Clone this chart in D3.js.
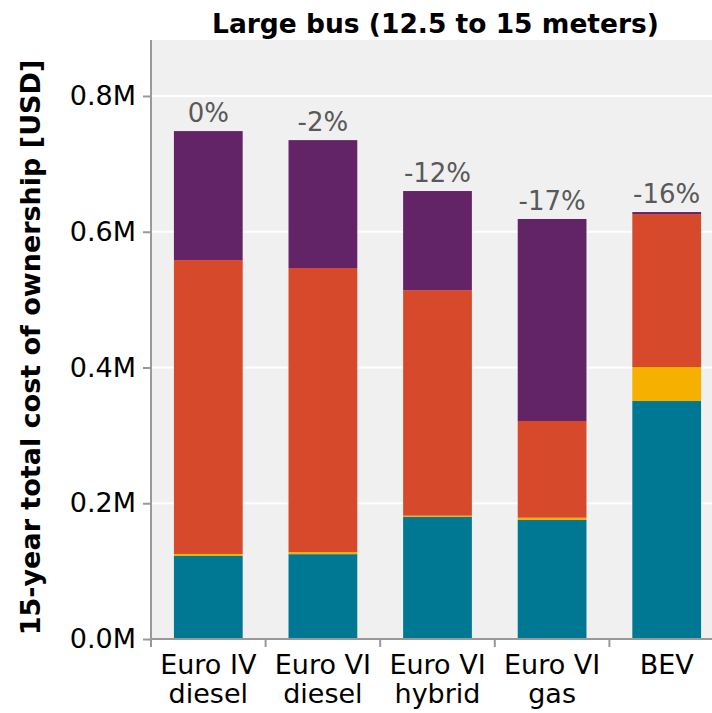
<!DOCTYPE html>
<html><head><meta charset="utf-8">
<script src="https://cdn.jsdelivr.net/npm/d3@7"></script>
<style>body{margin:0;background:#fff}</style>
</head><body>
<svg id="c" width="712" height="713"></svg>
<script>
const categories = ["Euro IV\ndiesel", "Euro VI\ndiesel", "Euro VI\nhybrid", "Euro VI\ngas", "BEV"];
const seriesNames = ["Vehicle", "Infrastructure", "Energy", "Maintenance & other"];
const vehicle        = [0.1223, 0.125, 0.1797, 0.1753, 0.3506];
const infrastructure = [0.003, 0.003, 0.002, 0.0034, 0.0501];
const energy         = [0.433, 0.4186, 0.3323, 0.1425, 0.2253];
const maintenance    = [0.190, 0.1884, 0.146, 0.2976, 0.003];
const pctLabels = ["0%", "-2%", "-12%", "-17%", "-16%"];
const yTicks = [0, 0.2, 0.4, 0.6, 0.8];
const colors = ["#007893", "#f5b000", "#d64a2b", "#622466"];
const chartTitle = "Large bus (12.5 to 15 meters)";
const yTitle = "15-year total cost of ownership [USD]";

const svg = d3.select("#c");
const pL = 151, pR = 724, pT = 40, pB = 639;
const yMax = (pB - pT) / ((pB - 96) / 0.8);

const x = d3.scaleBand().domain(categories).range([pL, pR]).paddingInner(0.4).paddingOuter(0.2);
const y = d3.scaleLinear().domain([0, yMax]).range([pB, pT]);

const rows = categories.map((c, i) => ({cat: c, s0: vehicle[i], s1: infrastructure[i], s2: energy[i], s3: maintenance[i], pct: pctLabels[i]}));
const stack = d3.stack().keys(["s0", "s1", "s2", "s3"])(rows);

// background
svg.append("rect").attr("x", pL).attr("y", pT).attr("width", 712 - pL).attr("height", pB - pT).attr("fill", "#f0f0f0");

// grid
svg.append("g").selectAll("line").data(yTicks).join("line")
  .attr("x1", pL).attr("x2", 712).attr("y1", d => y(d)).attr("y2", d => y(d))
  .attr("stroke", "#fff").attr("stroke-width", 2);

// bars
svg.append("g").selectAll("g").data(stack).join("g").attr("fill", (d, i) => colors[i])
  .selectAll("rect").data(d => d).join("rect")
  .attr("x", d => x(d.data.cat)).attr("width", x.bandwidth())
  .attr("y", d => y(d[1])).attr("height", d => y(d[0]) - y(d[1]));

// percent labels
const totals = rows.map(r => r.s0 + r.s1 + r.s2 + r.s3);
svg.append("g").selectAll("text").data(rows).join("text")
  .attr("x", d => x(d.cat) + x.bandwidth() / 2)
  .attr("y", (d, i) => y(totals[i]) - 9)
  .attr("text-anchor", "middle")
  .attr("font-family", "DejaVu Sans").attr("font-size", 26).attr("fill", "#595959")
  .text(d => d.pct);

// y axis
const yAxis = svg.append("g").attr("transform", `translate(${pL},0)`)
  .call(d3.axisLeft(y).tickValues(yTicks).tickFormat(d => d3.format(".1f")(d) + "M").tickSize(8).tickPadding(7));
yAxis.select(".domain").attr("stroke", "#999").attr("stroke-width", 2).attr("d", `M0,${pT}V${pB}`);
yAxis.selectAll(".tick line").attr("stroke", "#999").attr("stroke-width", 2);
yAxis.selectAll(".tick text").attr("font-family", "DejaVu Sans").attr("font-size", 27).attr("fill", "#000");

// x axis
const xAxis = svg.append("g").attr("transform", `translate(0,${pB})`)
  .call(d3.axisBottom(x).tickSize(8).tickPadding(8));
xAxis.select(".domain").attr("stroke", "#999").attr("stroke-width", 2).attr("d", `M${pL},0H712`);
xAxis.selectAll(".tick line").attr("stroke", "#999").attr("stroke-width", 2)
  .attr("x1", -x.step() / 2).attr("x2", -x.step() / 2);
xAxis.selectAll(".tick text").each(function(d) {
  const t = d3.select(this);
  const lines = d.split("\n");
  t.text(null).attr("font-family", "DejaVu Sans").attr("font-size", 27).attr("fill", "#000");
  lines.forEach((l, i) => t.append("tspan").attr("x", 0).attr("dy", i === 0 ? "0.71em" : "1.05em").text(l));
});

// titles
svg.append("text").attr("x", (pL + 712) / 2 + 4).attr("y", 33).attr("text-anchor", "middle")
  .attr("font-family", "DejaVu Sans").attr("font-weight", "bold").attr("font-size", 26.5).text(chartTitle);
svg.append("text").attr("transform", `translate(40,${(pT + pB) / 2 + 8}) rotate(-90)`)
  .attr("text-anchor", "middle")
  .attr("font-family", "DejaVu Sans").attr("font-weight", "bold").attr("font-size", 27).text(yTitle);
</script>
</body></html>
